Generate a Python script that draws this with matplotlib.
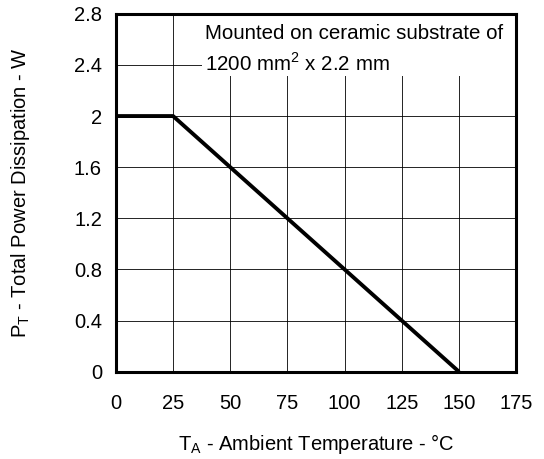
import matplotlib.pyplot as plt
from matplotlib.patches import Rectangle

plt.rcParams['font.family'] = ['Liberation Sans', 'DejaVu Sans']
plt.rcParams['mathtext.fontset'] = 'custom'
plt.rcParams['mathtext.rm'] = 'Liberation Sans'

# derating curve
temp = [0, 25, 150]
power = [2.0, 2.0, 0.0]
xticks = [0, 25, 50, 75, 100, 125, 150, 175]
yticks = [0, 0.4, 0.8, 1.2, 1.6, 2.0, 2.4, 2.8]
ylabels = ['0', '0.4', '0.8', '1.2', '1.6', '2', '2.4', '2.8']

fig = plt.figure(figsize=(5.44, 4.59), dpi=100)
ax = fig.add_axes([0.213, 0.190, 0.736, 0.780])

ax.plot(temp, power, color='black', lw=2.8, solid_capstyle='butt', zorder=4)

ax.set_xlim(0, 175)
ax.set_ylim(0, 2.8)
ax.set_xticks(xticks)
ax.set_yticks(yticks)
ax.set_yticklabels(ylabels)
ax.tick_params(length=0, labelsize=14.5, pad=10)
ax.tick_params(axis='x', pad=16)
ax.grid(True, color='black', lw=0.6)
ax.set_axisbelow(True)
for s in ax.spines.values():
    s.set_linewidth(2.2)
    s.set_zorder(5)

# white box behind the note, covering the grid
ax.add_patch(Rectangle((0.216, 0.825), 0.784, 0.175, transform=ax.transAxes,
                       facecolor='white', edgecolor='none', zorder=2))
ax.text(0.222, 0.945, 'Mounted on ceramic substrate of', transform=ax.transAxes,
        fontsize=14.8, va='center', ha='left', zorder=3)
ax.text(0.222, 0.862, '1200 mm$^2$ x 2.2 mm', transform=ax.transAxes,
        fontsize=14.8, va='center', ha='left', zorder=3)

ax.set_xlabel('T$_\\mathregular{A}$ - Ambient Temperature - °C', fontsize=14.5, labelpad=14)
ax.set_ylabel('P$_\\mathregular{T}$ - Total Power Dissipation - W', fontsize=14.5, labelpad=30)

fig.savefig('out.png', dpi=100)
